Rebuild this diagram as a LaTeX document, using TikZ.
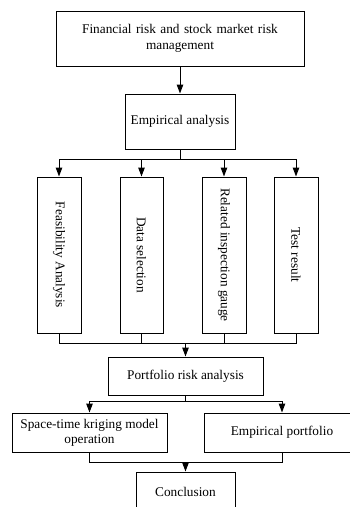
\documentclass[tikz,border=0pt]{standalone}
\usepackage{fontspec}
\setmainfont{Liberation Serif}
\usetikzlibrary{arrows.meta}
\begin{document}
\begin{tikzpicture}[x=1pt,y=-1pt,
  box/.style={draw,line width=1pt,inner sep=2pt,align=center,font=\fontsize{13.3}{16}\selectfont},
  vbox/.style={box,rotate=-90},
  conn/.style={line width=1pt},
  arr/.style={conn,-{Triangle[width=6.5pt,length=9pt]}}]
\useasboundingbox (0,0) rectangle (350,507);
\clip (0,0) rectangle (350,507);
\node[box,minimum width=248pt,minimum height=55pt,text width=240pt] (top) at (180,38.5) {Financial risk and stock market risk\\management};
\node[box,minimum width=110pt,minimum height=55pt] (emp) at (180,121.5) {Empirical analysis};
\node[vbox,minimum width=156pt,minimum height=44pt] (b1) at (59,255) {Feasibility Analysis};
\node[vbox,minimum width=156pt,minimum height=43pt] (b2) at (141.5,255) {Data selection};
\node[vbox,minimum width=156pt,minimum height=44pt] (b3) at (224,255) {Related inspection gauge};
\node[vbox,minimum width=156pt,minimum height=44pt] (b4) at (296,255) {Test result};
\node[box,minimum width=155pt,minimum height=38pt] (port) at (185.5,376) {Portfolio risk analysis};
\node[box,minimum width=155pt,minimum height=39pt,align=left] (st) at (89.5,432.5) {\begin{tabular}{@{}c@{}}Space-time kriging model\\[-1pt]operation\end{tabular}};
\node[box,minimum width=156pt,minimum height=39pt] (ep) at (282,432.5) {Empirical portfolio};
\node[box,minimum width=99pt,minimum height=40pt] (conc) at (185.5,492) {Conclusion};
\coordinate (bus1) at (180,159);
\coordinate (bus2) at (185.5,343);
\coordinate (bus3) at (185.5,401);
\coordinate (bus4) at (185.5,462);
\draw[arr] (top) -- (emp);
\draw[conn] (emp) -- (bus1);
\draw[arr] (bus1) -| (b1.west);
\draw[arr] (bus1) -| (b2.west);
\draw[arr] (bus1) -| (b3.west);
\draw[arr] (bus1) -| (b4.west);
\draw[conn] (b1.east) |- (bus2);
\draw[conn] (b2.east) |- (bus2);
\draw[conn] (b3.east) |- (bus2);
\draw[conn] (b4.east) |- (bus2);
\draw[arr] (bus2) -- (port);
\draw[conn] (port) -- (bus3);
\draw[arr] (bus3) -| (st);
\draw[arr] (bus3) -| (ep);
\draw[conn] (st) |- (bus4);
\draw[conn] (ep) |- (bus4);
\draw[arr] (bus4) -- (conc);
\end{tikzpicture}
\end{document}
